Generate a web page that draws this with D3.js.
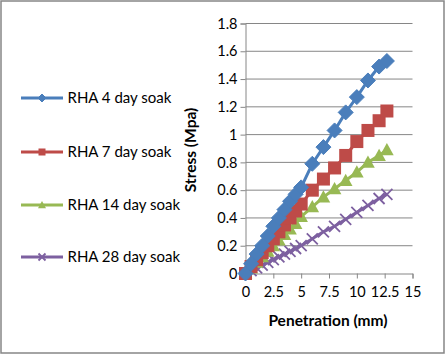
<!DOCTYPE html>
<html><head><meta charset="utf-8">
<script src="https://cdn.jsdelivr.net/npm/d3@7"></script>
<style>body{margin:0;background:#fff}svg{display:block}text{font-family:Lato,"Open Sans",sans-serif}</style>
</head><body><svg id="c" width="446" height="356"></svg>
<script>
const penetration = [0,0.5,1,1.5,2,2.5,3,3.5,4,4.5,5,6,7,8,9,10,11,12,12.7];
const rha4  = [0,0.07,0.14,0.2,0.27,0.34,0.4,0.46,0.52,0.57,0.62,0.79,0.91,1.03,1.16,1.27,1.39,1.49,1.53];
const rha7  = [0,0.05,0.1,0.15,0.2,0.25,0.3,0.35,0.4,0.45,0.5,0.6,0.68,0.76,0.85,0.95,1.03,1.1,1.17];
const rha14 = [0,0.04,0.08,0.12,0.16,0.2,0.24,0.28,0.32,0.36,0.41,0.48,0.55,0.61,0.67,0.73,0.8,0.85,0.89];
const rha28 = [0,0.02,0.04,0.06,0.08,0.1,0.12,0.14,0.16,0.18,0.2,0.25,0.3,0.34,0.39,0.44,0.49,0.54,0.57];
const seriesNames = ["RHA 4 day soak","RHA 7 day soak","RHA 14 day soak","RHA 28 day soak"];
const seriesColors = ["#4A7EBB","#BE4B48","#98B954","#7D60A0"];
const xTicks = [0,2.5,5,7.5,10,12.5,15];
const yTicks = [0,0.2,0.4,0.6,0.8,1,1.2,1.4,1.6,1.8];

const svg = d3.select("#c");
svg.append("rect").attr("x",1).attr("y",1).attr("width",443).attr("height",352)
  .attr("fill","#fff").attr("stroke","#868686").attr("stroke-width",1.5);

const x = d3.scaleLinear().domain([0,15]).range([245.5,412.5]);
const y = d3.scaleLinear().domain([0,1.8]).range([273.5,23.5]);

// gridlines
svg.append("g").selectAll("line").data(yTicks.slice(1)).join("line")
  .attr("x1",x(0)).attr("x2",x(15)).attr("y1",d=>y(d)).attr("y2",d=>y(d))
  .attr("stroke","#868686").attr("stroke-width",1);

const yAxis = d3.axisLeft(y).tickValues(yTicks).tickSize(5).tickPadding(3)
  .tickFormat(d=>String(+d.toFixed(1)));
const gy = svg.append("g").attr("transform",`translate(${x(0)},0)`).call(yAxis);
const xAxis = d3.axisBottom(x).tickValues(xTicks).tickSize(5).tickPadding(8)
  .tickFormat(d=>String(d));
const gx = svg.append("g").attr("transform",`translate(0,${y(0)})`).call(xAxis);
[gx,gy].forEach(g=>{
  g.select(".domain").attr("stroke","#868686");
  g.selectAll(".tick line").attr("stroke","#868686");
  g.selectAll("text").attr("font-family","Lato").attr("font-size",14.5).attr("fill","#000");
});

svg.append("text").attr("x",328).attr("y",326).attr("text-anchor","middle")
  .attr("font-weight","bold").attr("font-size",15.5).text("Penetration (mm)");
svg.append("text").attr("transform","translate(196,150) rotate(-90)").attr("text-anchor","middle")
  .attr("font-weight","bold").attr("font-size",15.5).text("Stress (Mpa)");

const allSeries = [rha4,rha7,rha14,rha28];
const line = d3.line().x((d,i)=>x(penetration[i])).y(d=>y(d));

function marker(g,type,color,s){
  if(type===0){ // diamond
    g.append("path").attr("d",`M0,${-s}L${s},0L0,${s}L${-s},0Z`).attr("fill",color)
      .attr("stroke",color).attr("stroke-width",1).attr("stroke-linejoin","round");
  } else if(type===1){
    g.append("rect").attr("x",-s).attr("y",-s).attr("width",s*2).attr("height",s*2).attr("fill",color);
  } else if(type===2){
    g.append("path").attr("d",`M0,${-s}L${s},${s*0.8}L${-s},${s*0.8}Z`).attr("fill",color);
  } else {
    g.append("path").attr("d",`M${-s},${-s}L${s},${s}M${s},${-s}L${-s},${s}`)
      .attr("stroke",color).attr("stroke-width",1.8);
  }
}

// draw in order so 4-day on top
for(let k=allSeries.length-1;k>=0;k--){
  const data = allSeries[k];
  svg.append("path").datum(data).attr("d",line).attr("fill","none")
    .attr("stroke",seriesColors[k]).attr("stroke-width",3).attr("stroke-linejoin","round");
  const sz = [7.5,6.5,6.8,5.5][k];
  data.forEach((v,i)=>{
    const g = svg.append("g").attr("transform",`translate(${x(penetration[i])},${y(v)})`);
    marker(g,k,seriesColors[k],sz);
  });
}

// legend
const legY = [98,152,205,257];
seriesNames.forEach((name,k)=>{
  svg.append("line").attr("x1",21).attr("x2",63).attr("y1",legY[k]).attr("y2",legY[k])
    .attr("stroke",seriesColors[k]).attr("stroke-width",3);
  const g = svg.append("g").attr("transform",`translate(42,${legY[k]})`);
  marker(g,k,seriesColors[k],[4,3.5,4,3.5][k]);
  svg.append("text").attr("x",67.5).attr("y",legY[k]+5).attr("font-size",15).attr("fill","#000").text(name);
});
</script></body></html>
